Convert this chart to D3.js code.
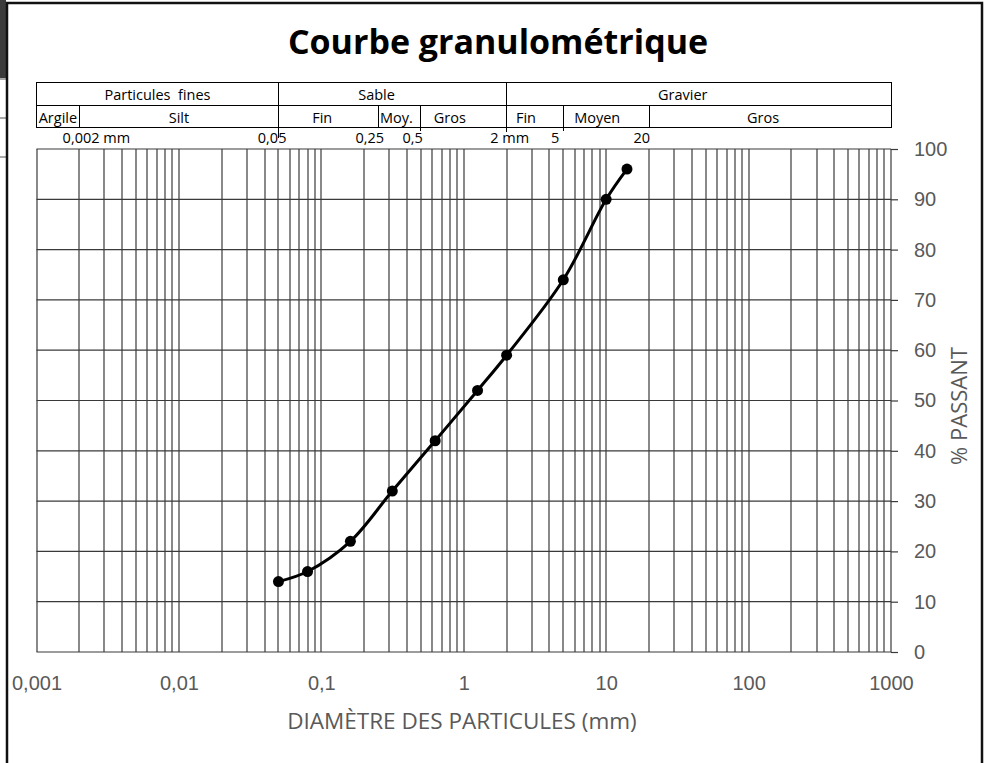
<!DOCTYPE html>
<html lang="fr">

<head>
  <meta charset="utf-8">
  <title>Courbe granulométrique</title>
  <script src="https://d3js.org/d3.v7.min.js"></script>
  <style type="text/css">
    body {
      margin: 0;
      background: #fff;
    }

    svg {
      font-family: "Open Sans", Lato, sans-serif;
      display: block;
    }

    .grid line {
      stroke: #3a3a3a;
      stroke-width: 1.2;
    }

    .axis path.domain {
      display: none;
    }

    .axis text {
      font-size: 20px;
      fill: #595959;
    }

    #yAxis g.tick>line {
      stroke: #3a3a3a;
      stroke-width: 1.2;
    }

    .classTable rect,
    .classTable line {
      fill: none;
      stroke: #000;
      stroke-width: 1;
      shape-rendering: crispEdges;
    }

    .classTable text {
      font-size: 14.5px;
      fill: #000;
      text-anchor: middle;
    }

    text.limitLabel {
      font-size: 14.5px;
      fill: #000;
    }

    #chartTitle {
      font-size: 34px;
      font-weight: bold;
      text-anchor: middle;
    }

    .axisTitle {
      font-size: 22.5px;
      fill: #595959;
      text-anchor: middle;
    }
  </style>
</head>

<body>
  <script>
    // data
    const sieveSizes = [0.05, 0.08, 0.16, 0.315, 0.63, 1.25, 2, 5, 10, 14];   // mm
    const percentPassing = [14, 16, 22, 32, 42, 52, 59, 74, 90, 96];

    const xTickValues = [0.001, 0.01, 0.1, 1, 10, 100, 1000];
    const xTickLabels = ["0,001", "0,01", "0,1", "1", "10", "100", "1000"];
    const yTickValues = [0, 10, 20, 30, 40, 50, 60, 70, 80, 90, 100];

    // soil classes (diameter bounds in mm)
    const mainClasses = ["Particules  fines", "Sable", "Gravier"];
    const mainBounds = [[0.001, 0.05], [0.05, 2], [2, 1000]];
    const subClasses = ["Argile", "Silt", "Fin", "Moy.", "Gros", "Fin", "Moyen", "Gros"];
    const subBounds = [[0.001, 0.002], [0.002, 0.05], [0.05, 0.25], [0.25, 0.5], [0.5, 2], [2, 5], [5, 20], [20, 1000]];
    const limitLabels = ["0,002 mm", "0,05", "0,25", "0,5", "2 mm", "5", "20"];
    const limitValues = [0.002, 0.05, 0.25, 0.5, 2, 5, 20];

    // layout
    const width = 989, height = 763;
    const plot = { left: 36.5, right: 891, top: 149, bottom: 652 };
    const table = { top: 82.5, mid: 105, bottom: 127.5 };
    const mainLabelShift = [0, -16, -16];
    const subLabelShift = [0, 0, -6, -3, -14, -9, -9, -7];
    const limitAnchor = ["middle", "end", "end", "end", "middle", "end", "end"];
    const limitShift = [17, 8, 6, 2, 3, -4, 1];

    let svg, xScale, yScale;

    function createSvgStructure() {
      svg = d3.select("body").append("svg")
        .attr("width", width).attr("height", height);
      svg.append("rect").attr("width", width).attr("height", height).attr("fill", "#fff");

      // bits of the surrounding sheet
      svg.append("rect").attr("x", 0).attr("y", 0).attr("width", 6).attr("height", 78).attr("fill", "#3b3b3b");
      [79, 118, 157].forEach(y => {
        svg.append("line").attr("x1", 0).attr("x2", 6).attr("y1", y).attr("y2", y)
          .attr("stroke", "#555").attr("stroke-width", 1);
      });
      svg.append("path")
        .attr("d", `M7,${height} V3 H982 V${height}`)
        .attr("fill", "none").attr("stroke", "#111").attr("stroke-width", 2.5);
    }

    function makeScales() {
      xScale = d3.scaleLog().domain([0.001, 1000]).range([plot.left, plot.right]);
      yScale = d3.scaleLinear().domain([0, 100]).range([plot.bottom, plot.top]);
    }

    function renderGrid() {
      const grid = svg.append("g").attr("class", "grid");
      grid.selectAll("line.v").data(xScale.ticks()).join("line")
        .attr("class", "v")
        .attr("x1", d => Math.round(xScale(d))).attr("x2", d => Math.round(xScale(d)))
        .attr("y1", plot.top).attr("y2", plot.bottom);
      grid.selectAll("line.h").data(yTickValues).join("line")
        .attr("class", "h")
        .attr("x1", plot.left).attr("x2", plot.right)
        .attr("y1", d => yScale(d)).attr("y2", d => yScale(d));
    }

    function renderAxes() {
      const xAxis = d3.axisBottom(xScale)
        .tickValues(xTickValues)
        .tickFormat((d, i) => xTickLabels[i])
        .tickSize(0)
        .tickPadding(24);
      svg.append("g").attr("id", "xAxis").attr("class", "axis")
        .attr("transform", `translate(0,${plot.bottom})`)
        .call(xAxis);

      const yAxis = d3.axisRight(yScale)
        .tickValues(yTickValues)
        .tickSize(7)
        .tickPadding(16);
      svg.append("g").attr("id", "yAxis").attr("class", "axis")
        .attr("transform", `translate(${plot.right},0)`)
        .call(yAxis);

      svg.append("text").attr("class", "axisTitle")
        .attr("x", 462).attr("y", 729)
        .text("DIAMÈTRE DES PARTICULES (mm)");
      svg.append("text").attr("class", "axisTitle")
        .style("font-size", "22px")
        .attr("transform", "translate(967,406) rotate(-90)")
        .text("% PASSANT");
    }

    function renderClassTable() {
      const g = svg.append("g").attr("class", "classTable");
      g.append("rect")
        .attr("x", xScale(0.001)).attr("y", table.top)
        .attr("width", xScale(1000) - xScale(0.001)).attr("height", table.bottom - table.top);
      g.append("line")
        .attr("x1", xScale(0.001)).attr("x2", xScale(1000))
        .attr("y1", table.mid).attr("y2", table.mid);

      // dividers
      mainBounds.slice(1).forEach(b => {
        g.append("line").attr("x1", xScale(b[0])).attr("x2", xScale(b[0]))
          .attr("y1", table.top).attr("y2", table.bottom + 4);
      });
      subBounds.slice(1).forEach(b => {
        g.append("line").attr("x1", xScale(b[0])).attr("x2", xScale(b[0]))
          .attr("y1", table.mid).attr("y2", table.bottom + (b[0] === 0.05 ? 10 : b[0] === 0.5 || b[0] === 5 ? 3 : 0));
      });

      g.selectAll("text.main").data(mainClasses).join("text")
        .attr("class", "main")
        .attr("x", (d, i) => (xScale(mainBounds[i][0]) + xScale(mainBounds[i][1])) / 2 + mainLabelShift[i])
        .attr("y", table.mid - 5)
        .attr("xml:space", "preserve")
        .text(d => d);
      g.selectAll("text.sub").data(subClasses).join("text")
        .attr("class", "sub")
        .attr("x", (d, i) => (xScale(subBounds[i][0]) + xScale(subBounds[i][1])) / 2 + subLabelShift[i])
        .attr("y", table.bottom - 5)
        .text(d => d);

      svg.selectAll("text.limitLabel").data(limitLabels).join("text")
        .attr("class", "limitLabel")
        .attr("x", (d, i) => xScale(limitValues[i]) + limitShift[i])
        .attr("y", 143)
        .attr("text-anchor", (d, i) => limitAnchor[i])
        .text(d => d);
    }

    function renderCurve() {
      const points = sieveSizes.map((d, i) => [d, percentPassing[i]]);
      const line = d3.line()
        .x(d => xScale(d[0]))
        .y(d => yScale(d[1]))
        .curve(d3.curveCatmullRom.alpha(0.5));
      svg.append("path").datum(points)
        .attr("d", line)
        .attr("fill", "none").attr("stroke", "#000").attr("stroke-width", 3);
      svg.selectAll("circle.point").data(points).join("circle")
        .attr("class", "point")
        .attr("cx", d => xScale(d[0])).attr("cy", d => yScale(d[1]))
        .attr("r", 5.5).attr("fill", "#000");
    }

    function renderTitle() {
      svg.append("text").attr("id", "chartTitle")
        .attr("x", 498).attr("y", 54)
        .text("Courbe granulométrique");
    }

    function main() {
      createSvgStructure();
      makeScales();
      renderGrid();
      renderAxes();
      renderClassTable();
      renderCurve();
      renderTitle();
    }
    main();
  </script>
</body>

</html>
